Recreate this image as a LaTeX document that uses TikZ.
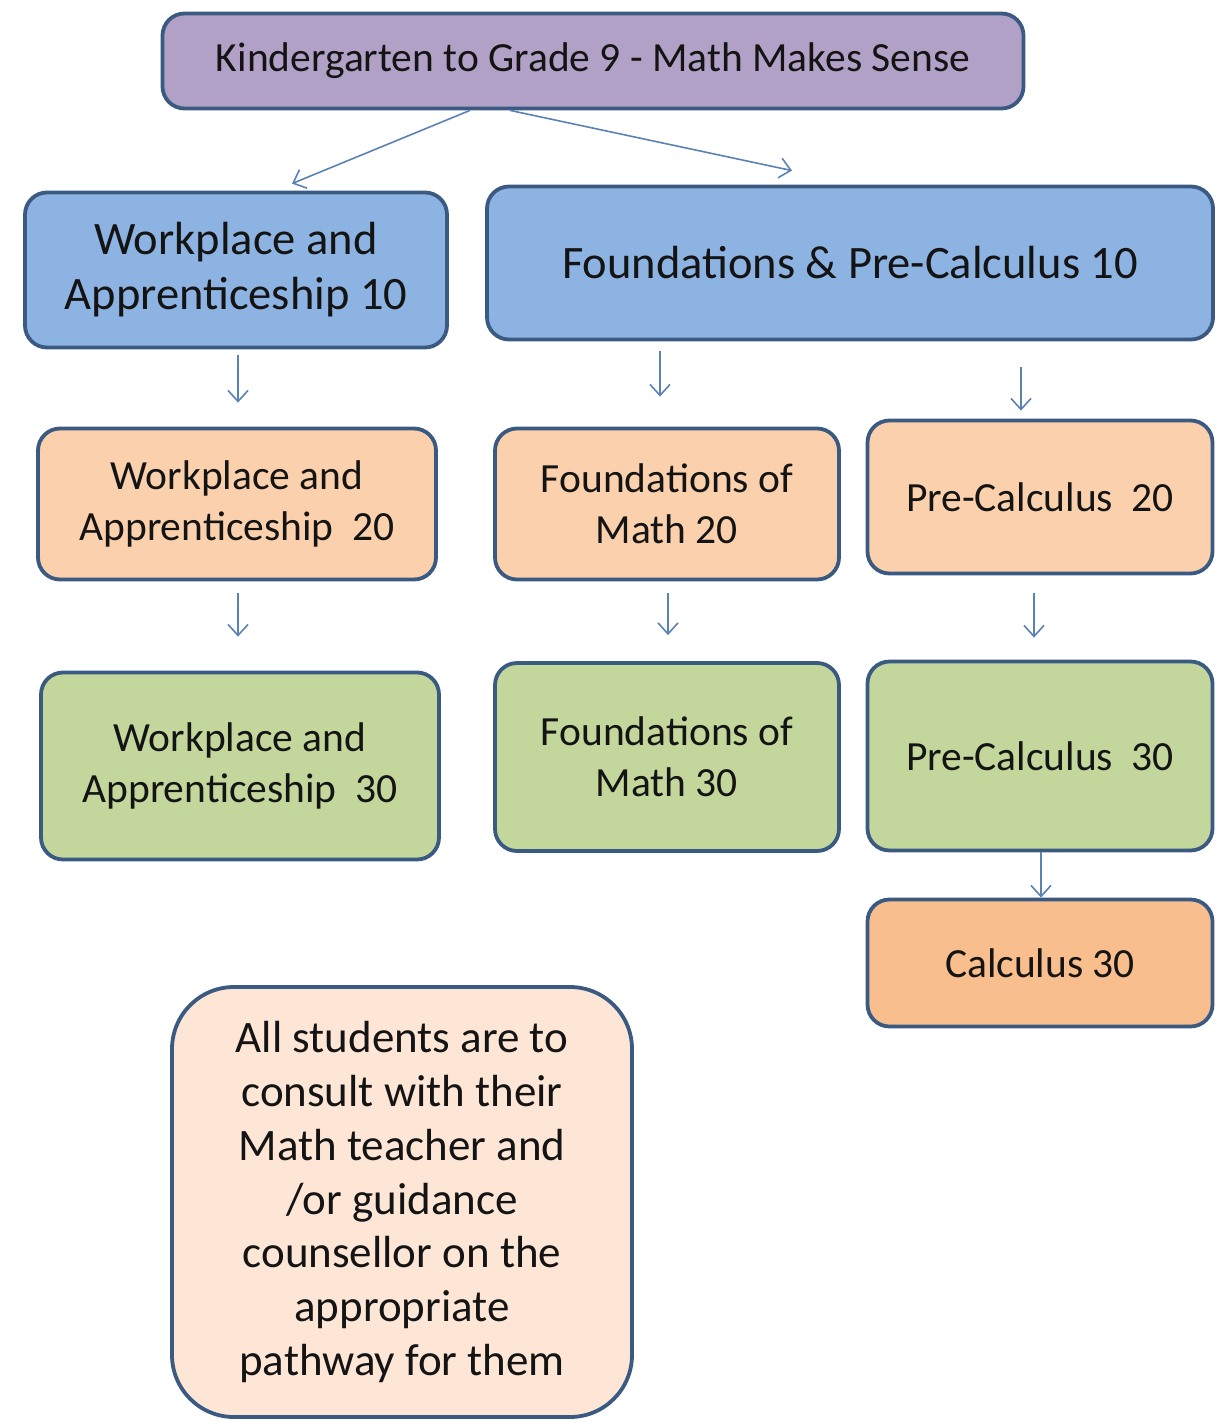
\documentclass[tikz,border=0pt]{standalone}
\usepackage{fontspec}
\setmainfont{Carlito}
\usetikzlibrary{arrows.meta}

\definecolor{edgeblue}{HTML}{3B5A82}
\definecolor{arrowblue}{HTML}{5B82B5}
\definecolor{kpurple}{HTML}{B2A1C7}
\definecolor{tenblue}{HTML}{8DB3E2}
\definecolor{twentypeach}{HTML}{FBD0AC}
\definecolor{thirtygreen}{HTML}{C3D69B}
\definecolor{calcorange}{HTML}{F9BE8E}
\definecolor{notepink}{HTML}{FDE6D6}
\definecolor{inktext}{HTML}{141414}

\tikzset{
  course/.style={draw=edgeblue, line width=3.8pt, rounded corners=22pt, align=center,
    text=inktext, inner sep=0pt},
  flow/.style={draw=arrowblue, line width=1.6pt, -{Straight Barb[length=11pt,width=20pt]}}
}

\begin{document}
\begin{tikzpicture}[x=1pt,y=-1pt]
		\useasboundingbox (0,0) rectangle (1217,1426);

		%top box
		\node[course, fill=kpurple, minimum width=861, minimum height=95,
		  font=\fontsize{41.5}{48}\selectfont] (k9) at (593, 61) {Kindergarten to Grade 9 - Math Makes Sense};

		%grade 10
		\node[course, fill=tenblue, minimum width=422, minimum height=155,
		  font=\fontsize{46.5}{55}\selectfont] (wa10) at (236, 270) {Workplace and\\Apprenticeship 10};
		\node[course, fill=tenblue, minimum width=726, minimum height=153,
		  font=\fontsize{46.5}{55}\selectfont] (fpc10) at (850, 263) {Foundations \& Pre-Calculus 10};

		%grade 20
		\node[course, fill=twentypeach, minimum width=398, minimum height=151,
		  font=\fontsize{41.5}{51}\selectfont] (wa20) at (237, 504) {Workplace and\\Apprenticeship~~20};
		\node[course, fill=twentypeach, minimum width=344, minimum height=151,
		  font=\fontsize{41.5}{51}\selectfont] (fm20) at (667, 504) {Foundations of\\Math 20};
		\node[course, fill=twentypeach, minimum width=345, minimum height=153,
		  font=\fontsize{41.5}{51}\selectfont] (pc20) at (1040, 497) {Pre-Calculus~~20};

		%grade 30
		\node[course, fill=thirtygreen, minimum width=398, minimum height=187,
		  font=\fontsize{41.5}{51}\selectfont] (wa30) at (240, 766) {Workplace and\\Apprenticeship~~30};
		\node[course, fill=thirtygreen, minimum width=344, minimum height=188,
		  font=\fontsize{41.5}{51}\selectfont] (fm30) at (667, 757) {Foundations of\\Math 30};
		\node[course, fill=thirtygreen, minimum width=345, minimum height=189,
		  font=\fontsize{41.5}{51}\selectfont] (pc30) at (1040, 756) {Pre-Calculus~~30};
		\node[course, fill=calcorange, minimum width=345, minimum height=127,
		  font=\fontsize{41.5}{51}\selectfont] (calc30) at (1040, 963) {Calculus 30};

		%note
		\node[course, fill=notepink, rounded corners=62pt, minimum width=460, minimum height=430,
		  font=\fontsize{45}{53.7}\selectfont] (note) at (402, 1202)
		  {All students are to\\consult with their\\Math teacher and\\/or guidance\\counsellor on the\\appropriate\\pathway for them};

		%arrows from top
		\draw[flow] ([xshift=-123]k9.south) -- ([xshift=56,yshift=7]wa10.north);
		\draw[flow] ([xshift=-83]k9.south) -- ([xshift=-58,yshift=14]fpc10.north);

		%arrows down
		\draw[flow, shorten <=6pt, shorten >=24pt] ([xshift=2]wa10.south) -- ([xshift=1]wa20.north);
		\draw[flow, shorten <=10pt, shorten >=30pt] ([xshift=-7]fm20.north |- fpc10.south) -- ([xshift=-7]fm20.north);
		\draw[flow, shorten <=26pt, shorten >=8pt] ([xshift=-19]pc20.north |- fpc10.south) -- ([xshift=-19]pc20.north);
		\draw[flow, shorten <=12pt, shorten >=34pt] ([xshift=1]wa20.south) -- ([xshift=-2]wa30.north);
		\draw[flow, shorten <=12pt, shorten >=26pt] ([xshift=1]fm20.south) -- ([xshift=1]fm30.north);
		\draw[flow, shorten <=18pt, shorten >=22pt] ([xshift=-6]pc20.south) -- ([xshift=-6]pc30.north);
		\draw[flow] ([xshift=1]pc30.south) -- ([xshift=1]calc30.north);
\end{tikzpicture}
\end{document}
